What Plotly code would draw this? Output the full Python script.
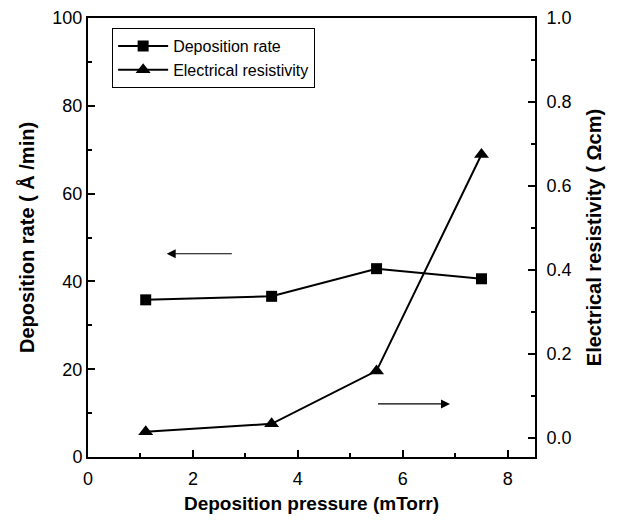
import plotly.graph_objects as go

pressure = [1.1, 3.5, 5.5, 7.5]
dep_rate = [35.8, 36.6, 42.9, 40.6]
resistivity = [0.015, 0.034, 0.16, 0.675]

FONT = "Liberation Sans, Arial, sans-serif"

fig = go.Figure()
fig.add_trace(go.Scatter(
    x=pressure, y=dep_rate, name="Deposition rate", mode="lines+markers",
    line=dict(color="black", width=2),
    marker=dict(symbol="square", size=11, color="black"),
))
fig.add_trace(go.Scatter(
    x=pressure, y=resistivity, name="Electrical resistivity", mode="lines+markers",
    line=dict(color="black", width=2),
    marker=dict(symbol="triangle-up", size=13, color="black"),
    yaxis="y2",
))

# arrows pointing to the relevant axis
fig.add_annotation(x=1.5, y=46.3, ax=2.77, ay=46.3, xref="x", yref="y",
                   axref="x", ayref="y", showarrow=True, arrowhead=2,
                   arrowsize=1.5, arrowwidth=1.2, arrowcolor="black", text="")
fig.add_annotation(x=6.9, y=12.1, ax=5.5, ay=12.1, xref="x", yref="y",
                   axref="x", ayref="y", showarrow=True, arrowhead=2,
                   arrowsize=1.5, arrowwidth=1.2, arrowcolor="black", text="")

axis_common = dict(showline=True, linecolor="black", linewidth=2,
                   ticks="inside", ticklen=7, tickwidth=1.5, tickcolor="black",
                   showgrid=False, zeroline=False, automargin=False,
                   tickfont=dict(family=FONT, size=18, color="black"))

fig.update_layout(
    width=626, height=522,
    margin=dict(l=88, r=91, t=18, b=65),
    paper_bgcolor="white", plot_bgcolor="white",
    font=dict(family=FONT, color="black"),
    showlegend=True,
    legend=dict(x=0.054, y=0.977, xanchor="left", yanchor="top",
                bordercolor="black", borderwidth=1, bgcolor="white",
                font=dict(family=FONT, size=16, color="black"),
                itemwidth=50, tracegroupgap=0),
    xaxis=dict(range=[0, 8.52], tickvals=[0, 2, 4, 6, 8], mirror=True,
               minor=dict(tickvals=[1, 3, 5, 7], ticklen=4, tickcolor="black", ticks="inside"),
               ticklabelstandoff=4,
               title=dict(text="<b>Deposition pressure (mTorr)</b>",
                          font=dict(family=FONT, size=19), standoff=9),
               **axis_common),
    yaxis=dict(range=[0, 100], tickvals=[0, 20, 40, 60, 80, 100],
               minor=dict(tickvals=[10, 30, 50, 70, 90], ticklen=4, tickcolor="black", ticks="inside"),
               title=dict(text="<b>Deposition rate ( Å /min)</b>",
                          font=dict(family=FONT, size=20), standoff=12),
               **axis_common),
    yaxis2=dict(range=[-0.045, 1.0], overlaying="y", side="right",
                tickvals=[0.0, 0.2, 0.4, 0.6, 0.8, 1.0], tickformat=".1f",
                minor=dict(tickvals=[0.1, 0.3, 0.5, 0.7, 0.9], ticklen=4, tickcolor="black", ticks="inside"),
                ticklabelstandoff=6,
                title=dict(text="<b>Electrical resistivity ( Ωcm)</b>",
                           font=dict(family=FONT, size=20), standoff=16),
                **axis_common),
)

fig.write_html("out.html")
